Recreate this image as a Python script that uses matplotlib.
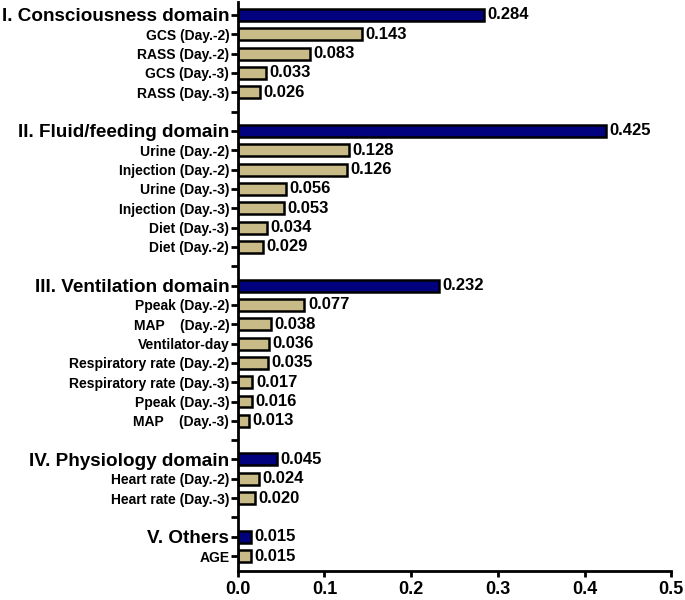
import numpy as np
import matplotlib.pyplot as plt

plt.rcParams['font.family'] = ['Liberation Sans', 'DejaVu Sans']
plt.rcParams['font.weight'] = 'bold'

# rows from top to bottom; '' marks a blank spacer row
labels = ['I. Consciousness domain', 'GCS (Day.-2)', 'RASS (Day.-2)', 'GCS (Day.-3)', 'RASS (Day.-3)', '',
          'II. Fluid/feeding domain', 'Urine (Day.-2)', 'Injection (Day.-2)', 'Urine (Day.-3)',
          'Injection (Day.-3)', 'Diet (Day.-3)', 'Diet (Day.-2)', '',
          'III. Ventilation domain', 'Ppeak (Day.-2)', 'MAP    (Day.-2)', 'Ventilator-day',
          'Respiratory rate (Day.-2)', 'Respiratory rate (Day.-3)', 'Ppeak (Day.-3)', 'MAP    (Day.-3)', '',
          'IV. Physiology domain', 'Heart rate (Day.-2)', 'Heart rate (Day.-3)', '',
          'V. Others', 'AGE']
values = [0.284, 0.143, 0.083, 0.033, 0.026, None,
          0.425, 0.128, 0.126, 0.056, 0.053, 0.034, 0.029, None,
          0.232, 0.077, 0.038, 0.036, 0.035, 0.017, 0.016, 0.013, None,
          0.045, 0.024, 0.020, None,
          0.015, 0.015]
domains = ['I. Consciousness domain', 'II. Fluid/feeding domain', 'III. Ventilation domain',
           'IV. Physiology domain', 'V. Others']

navy = '#02027f'
tan = '#c8bb87'

fig = plt.figure(figsize=(6.85, 6.0), dpi=100)
ax = fig.add_axes([0.347, 0.048, 0.633, 0.949])

for i, (lab, v) in enumerate(zip(labels, values)):
    if v is None:
        continue
    col = navy if lab in domains else tan
    ax.barh(i, v, height=0.62, color=col, edgecolor='black', linewidth=1.8)
    ax.text(v + 0.004, i, f'{v:.3f}', va='center', ha='left', fontsize=12, fontweight='bold')

ax.set_yticks(range(len(labels)))
ax.set_yticklabels(labels)
for t in ax.get_yticklabels():
    if t.get_text() in domains:
        t.set_fontsize(13.6)
    else:
        t.set_fontsize(10)
    t.set_fontweight('bold')

ax.set_ylim(len(labels) - 1 + 0.78, -0.68)
ax.set_xlim(0, 0.5)
ax.set_xticks(np.arange(0, 0.51, 0.1))
ax.set_xticklabels([f'{x:.1f}' for x in np.arange(0, 0.51, 0.1)], fontsize=13, fontweight='bold')

for s in ['top', 'right']:
    ax.spines[s].set_visible(False)
for s in ['left', 'bottom']:
    ax.spines[s].set_linewidth(2)
ax.tick_params(axis='y', width=2, length=5, pad=1)
ax.tick_params(axis='x', width=2, length=4, pad=3)

fig.savefig('out.png', dpi=100)
